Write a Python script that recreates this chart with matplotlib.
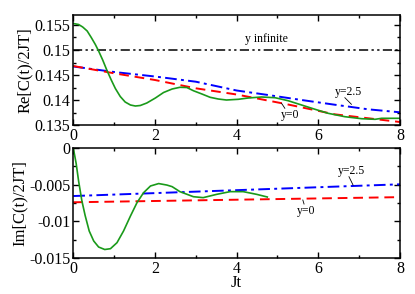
import matplotlib
matplotlib.use('Agg')
import matplotlib.pyplot as plt
import numpy as np
from matplotlib.ticker import MultipleLocator

plt.rcParams['font.family'] = ['Liberation Serif', 'DejaVu Serif']

# ---------------- data ----------------
# upper panel: Re[C(t)/2JT]
re_t = [0, 0.13, 0.23, 0.34, 0.44, 0.54, 0.62, 0.72, 0.82, 0.93, 1.03, 1.15,
        1.27, 1.40, 1.52, 1.64, 1.80, 2.01, 2.21, 2.42, 2.61, 2.78, 2.94, 3.15,
        3.35, 3.55, 3.75, 4.04, 4.28, 4.61, 4.94, 5.26, 5.59, 5.92, 6.24, 6.65,
        7.06, 7.39, 7.55, 8.0]
re_exact = [0.1553, 0.1551, 0.1546, 0.1538, 0.1525, 0.1511, 0.1498, 0.1480,
            0.1460, 0.1440, 0.1423, 0.1407, 0.1396, 0.1390, 0.1388, 0.1389,
            0.1394, 0.1404, 0.1415, 0.1422, 0.14254, 0.1425, 0.14186, 0.1412,
            0.14054, 0.1402, 0.1400, 0.14014, 0.1404, 0.1406, 0.14046, 0.13986,
            0.1390, 0.13814, 0.13734, 0.13666, 0.13626, 0.13614, 0.13634, 0.13634]
re_y0_t = [0, 1, 2, 3, 4, 5.2, 6.4, 8]
re_y0 = [0.1468, 0.14534, 0.1440, 0.14234, 0.1411, 0.1392, 0.13714, 0.1356]
re_y25_t = [0, 1, 2, 3, 4, 4.77, 5.59, 6.4, 7.22, 8]
re_y25 = [0.1467, 0.1456, 0.1447, 0.14366, 0.1419, 0.1410, 0.1400, 0.13906,
          0.13814, 0.13754]
re_inf = 0.150

# lower panel: Im[C(t)/2JT]
im_t = [0, 0.07, 0.13, 0.21, 0.29, 0.39, 0.50, 0.62, 0.77, 0.91, 1.07, 1.23,
        1.40, 1.56, 1.72, 1.89, 2.09, 2.29, 2.42, 2.61, 2.94, 3.18, 3.51, 3.84,
        4.16, 4.49, 4.75]
im_exact = [0, -0.0021, -0.0045, -0.0072, -0.0092, -0.01132, -0.01268, -0.0135,
            -0.01384, -0.01373, -0.01291, -0.01132, -0.00927, -0.00745, -0.0061,
            -0.00518, -0.00485, -0.00505, -0.00527, -0.00595, -0.00664, -0.00677,
            -0.00632, -0.00595, -0.00595, -0.00632, -0.00668]
im_lin_t = [0, 8]
im_y0 = [-0.0074, -0.0067]
im_y25 = [-0.00655, -0.00495]

xticks = [0, 2, 4, 6, 8]

green = '#1a9a1a'
dashdot = (0, (6, 2.2, 1.5, 2.2))
dashdotdot = (0, (6, 2.2, 1.5, 2.2, 1.5, 2.2))

fig = plt.figure(figsize=(4.15, 2.94), dpi=100)
ax1 = fig.add_axes([0.1766, 0.5748, 0.7873, 0.3742])
ax2 = fig.add_axes([0.1766, 0.1224, 0.7873, 0.3742])

# upper
ax1.axhline(re_inf, color='black', lw=1.1, ls=dashdotdot)
ax1.plot(re_y25_t, re_y25, color='blue', lw=1.4, ls=dashdot)
ax1.plot(re_y0_t, re_y0, color='red', lw=1.4, ls=(0, (5, 3)))
ax1.plot(re_t, re_exact, color=green, lw=1.2)
ax1.set_xlim(0, 8)
ax1.set_ylim(0.135, 0.157)
ax1.set_yticks([0.135, 0.14, 0.145, 0.15, 0.155])
ax1.set_yticklabels(['0.135', '0.14', '0.145', '0.15', '0.155'])
ax1.yaxis.set_minor_locator(MultipleLocator(0.0025))
ax1.set_ylabel('Re[C(t)/2JT]', fontsize=12, labelpad=1)
ax1.text(4.73, 0.1521, 'y infinite', fontsize=8.5, ha='center', va='center')
ax1.text(6.73, 0.1416, 'y=2.5', fontsize=8.5, ha='center', va='center')
ax1.plot([6.65, 6.81], [0.14046, 0.13914], color='black', lw=0.6)
ax1.text(5.30, 0.1370, 'y=0', fontsize=8.5, ha='center', va='center')
ax1.plot([5.10, 5.18], [0.13934, 0.13834], color='black', lw=0.6)

# lower
ax2.plot(im_lin_t, im_y25, color='blue', lw=1.4, ls=dashdot)
ax2.plot(im_lin_t, im_y0, color='red', lw=1.4, ls=(0, (5, 3)))
ax2.plot(im_t, im_exact, color=green, lw=1.2)
ax2.set_xlim(0, 8)
ax2.set_ylim(-0.015, 0)
ax2.set_yticks([-0.015, -0.01, -0.005, 0])
ax2.set_yticklabels(['-0.015', '-0.01', '-0.005', '0'])
ax2.yaxis.set_minor_locator(MultipleLocator(0.0025))
ax2.set_ylabel('Im[C(t)/2JT]', fontsize=12, labelpad=1)
ax2.set_xlabel('Jt', fontsize=12, labelpad=-1)
ax2.text(6.81, -0.0031, 'y=2.5', fontsize=8.5, ha='center', va='center')
ax2.plot([6.75, 6.85], [-0.00391, -0.00505], color='black', lw=0.6)
ax2.text(5.70, -0.0086, 'y=0', fontsize=8.5, ha='center', va='center')
ax2.plot([5.62, 5.65], [-0.00709, -0.00764], color='black', lw=0.6)

for ax in (ax1, ax2):
    ax.set_xticks(xticks)
    ax.xaxis.set_minor_locator(MultipleLocator(1))
    ax.tick_params(which='both', direction='in', top=True, right=True,
                   labelsize=11.5, pad=2)
    ax.tick_params(which='major', length=4, width=1)
    ax.tick_params(which='minor', length=2.5, width=1)
    for s in ax.spines.values():
        s.set_linewidth(1.1)

fig.savefig('out.png', dpi=100)
